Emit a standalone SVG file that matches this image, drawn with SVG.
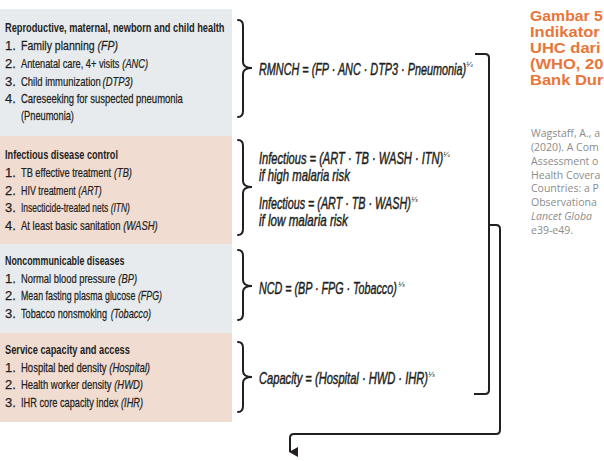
<svg xmlns="http://www.w3.org/2000/svg" width="604" height="461" viewBox="0 0 604 461">
<defs>
<style>
.hd{font-family:"Liberation Sans",Arial,sans-serif;font-size:13px;font-weight:bold;fill:#231f20}
.it{font-family:"Liberation Sans",Arial,sans-serif;font-size:13px;fill:#231f20;stroke:#231f20;stroke-width:0.25}
.ab{font-style:italic}
.fm{font-family:"Liberation Sans",Arial,sans-serif;font-size:16px;font-style:italic;fill:#231f20;stroke:#231f20;stroke-width:0.45}
.sup{font-family:"DejaVu Sans",sans-serif;font-size:7px;font-style:italic;fill:#231f20}
.br{fill:none;stroke:#231f20;stroke-width:2;stroke-linecap:round}
.cn{fill:none;stroke:#231f20;stroke-width:2}
.ttl{font-family:"Liberation Sans",Arial,sans-serif;font-size:14px;font-weight:bold;fill:#e8763a}
.ref{font-family:"Open Sans","Noto Sans",sans-serif;font-size:10.5px;fill:#8c8c8c}
.grey{fill:#e8ebee}
.pink{fill:#f1dcd2}
</style>
<marker id="arr" markerWidth="10" markerHeight="10" refX="5" refY="8" orient="auto" markerUnits="userSpaceOnUse" viewBox="0 0 10 10">
<path d="M0,0 L10,0 L5,9 Z" fill="#231f20"/>
</marker>
</defs>
<rect width="604" height="461" fill="#ffffff"/>

<g id="panel-rmnch">
<rect class="grey" x="0" y="9" width="232" height="127"/>
<text class="hd" transform="translate(5 32) scale(0.713 1)">Reproductive, maternal, newborn and child health</text>
<text class="it" x="5" y="50">1.</text>
<text class="it" transform="translate(21 50) scale(0.809 1)">Family planning</text>
<text class="it ab" transform="translate(97.6 50) scale(0.809 1)">(FP)</text>
<text class="it" x="5" y="68">2.</text>
<text class="it" transform="translate(21 68) scale(0.713 1)">Antenatal care, 4+ visits</text>
<text class="it ab" transform="translate(122.3 68) scale(0.713 1)">(ANC)</text>
<text class="it" x="5" y="86">3.</text>
<text class="it" transform="translate(21 86) scale(0.727 1)">Child immunization</text>
<text class="it ab" transform="translate(102.5 86) scale(0.727 1)">(DTP3)</text>
<text class="it" x="5" y="103">4.</text>
<text class="it" transform="translate(21 103) scale(0.728 1)">Careseeking for suspected pneumonia</text>
<text class="it" transform="translate(21 120) scale(0.712 1)">(Pneumonia)</text>
</g>

<g id="panel-infectious">
<rect class="pink" x="0" y="136" width="232" height="108"/>
<text class="hd" transform="translate(5 159) scale(0.705 1)">Infectious disease control</text>
<text class="it" x="5" y="177">1.</text>
<text class="it" transform="translate(21 177) scale(0.711 1)">TB effective treatment</text>
<text class="it ab" transform="translate(114 177) scale(0.711 1)">(TB)</text>
<text class="it" x="5" y="195">2.</text>
<text class="it" transform="translate(21 195) scale(0.684 1)">HIV treatment</text>
<text class="it ab" transform="translate(78.3 195) scale(0.684 1)">(ART)</text>
<text class="it" x="5" y="212">3.</text>
<text class="it" transform="translate(21 212) scale(0.65 1)">Insecticide-treated nets</text>
<text class="it ab" transform="translate(110.7 212) scale(0.65 1)">(ITN)</text>
<text class="it" x="5" y="230">4.</text>
<text class="it" transform="translate(21 230) scale(0.729 1)">At least basic sanitation</text>
<text class="it ab" transform="translate(123.2 230) scale(0.729 1)">(WASH)</text>
</g>

<g id="panel-ncd">
<rect class="grey" x="0" y="244" width="232" height="89"/>
<text class="hd" transform="translate(5 265) scale(0.683 1)">Noncommunicable diseases</text>
<text class="it" x="5" y="283">1.</text>
<text class="it" transform="translate(21 283) scale(0.72 1)">Normal blood pressure</text>
<text class="it ab" transform="translate(118.3 283) scale(0.72 1)">(BP)</text>
<text class="it" x="5" y="300">2.</text>
<text class="it" transform="translate(21 300) scale(0.68 1)">Mean fasting plasma glucose</text>
<text class="it ab" transform="translate(137.9 300) scale(0.68 1)">(FPG)</text>
<text class="it" x="5" y="318">3.</text>
<text class="it" transform="translate(21 318) scale(0.705 1)">Tobacco nonsmoking</text>
<text class="it ab" transform="translate(110.7 318) scale(0.705 1)">(Tobacco)</text>
</g>

<g id="panel-capacity">
<rect class="pink" x="0" y="333" width="232" height="89"/>
<text class="hd" transform="translate(5 354) scale(0.712 1)">Service capacity and access</text>
<text class="it" x="5" y="372">1.</text>
<text class="it" transform="translate(21 372) scale(0.732 1)">Hospital bed density</text>
<text class="it ab" transform="translate(109.3 372) scale(0.732 1)">(Hospital)</text>
<text class="it" x="5" y="389">2.</text>
<text class="it" transform="translate(21 389) scale(0.725 1)">Health worker density</text>
<text class="it ab" transform="translate(114.2 389) scale(0.725 1)">(HWD)</text>
<text class="it" x="5" y="407">3.</text>
<text class="it" transform="translate(21 407) scale(0.71 1)">IHR core capacity index</text>
<text class="it ab" transform="translate(121 407) scale(0.71 1)">(IHR)</text>
</g>

<g id="formula-rmnch">
<path class="br" d="M238,20 Q243,20 243,26 V62 Q243,68 252,68 Q243,68 243,74 V111 Q243,117 238,117"/>
<text class="fm" transform="translate(259 75) scale(0.677 1)">RMNCH = (FP · ANC · DTP3 · Pneumonia)</text>
<text class="sup" x="466" y="67">¼</text>
</g>

<g id="formula-infectious">
<path class="br" d="M238,140 Q243,140 243,146 V181 Q243,187 252,187 Q243,187 243,193 V229 Q243,235 238,235"/>
<text class="fm" transform="translate(259 164) scale(0.694 1)">Infectious = (ART · TB · WASH · ITN)</text>
<text class="sup" x="443" y="157">¼</text>
<text class="fm" transform="translate(259 181) scale(0.706 1)">if high malaria risk</text>
<text class="fm" transform="translate(259 209) scale(0.673 1)">Infectious = (ART · TB · WASH)</text>
<text class="sup" x="411" y="202">⅓</text>
<text class="fm" transform="translate(259 226) scale(0.725 1)">if low malaria risk</text>
</g>

<g id="formula-ncd">
<path class="br" d="M238,250 Q243,250 243,256 V280 Q243,286 252,286 Q243,286 243,292 V314 Q243,320 238,320"/>
<text class="fm" transform="translate(259 294) scale(0.671 1)">NCD = (BP · FPG · Tobacco)</text>
<text class="sup" x="398" y="287">⅓</text>
</g>

<g id="formula-capacity">
<path class="br" d="M238,342 Q243,342 243,348 V371 Q243,377 252,377 Q243,377 243,383 V406 Q243,412 238,412"/>
<text class="fm" transform="translate(259 384) scale(0.696 1)">Capacity = (Hospital · HWD · IHR)</text>
<text class="sup" x="428" y="377">⅓</text>
</g>

<g id="connectors">
<path class="cn" d="M475,54 H485 Q489,54 489,58 V390 Q489,394 485,394 H474"/>
<path class="cn" d="M489,225 H496 Q500,225 500,229 V430 Q500,434 496,434 H294 Q290,434 290,438 V452" marker-end="url(#arr)"/>
</g>

<g id="caption">
<text class="ttl" transform="translate(530 21) scale(1.13 1)">Gambar 5</text>
<text class="ttl" transform="translate(530 37) scale(1.18 1)">Indikator</text>
<text class="ttl" transform="translate(530 53) scale(1.18 1)">UHC dari</text>
<text class="ttl" transform="translate(530 69) scale(1.18 1)">(WHO, 20</text>
<text class="ttl" transform="translate(530 85) scale(1.18 1)">Bank Dur</text>
<text class="ref" x="531" y="137">Wagstaff, A., a</text>
<text class="ref" x="531" y="151">(2020). A Com</text>
<text class="ref" x="531" y="165">Assessment o</text>
<text class="ref" x="531" y="179">Health Covera</text>
<text class="ref" x="531" y="192">Countries: a P</text>
<text class="ref" x="531" y="206">Observationa</text>
<text class="ref" x="531" y="220" font-style="italic">Lancet Globa</text>
<text class="ref" x="531" y="234">e39-e49.</text>
</g>
</svg>
